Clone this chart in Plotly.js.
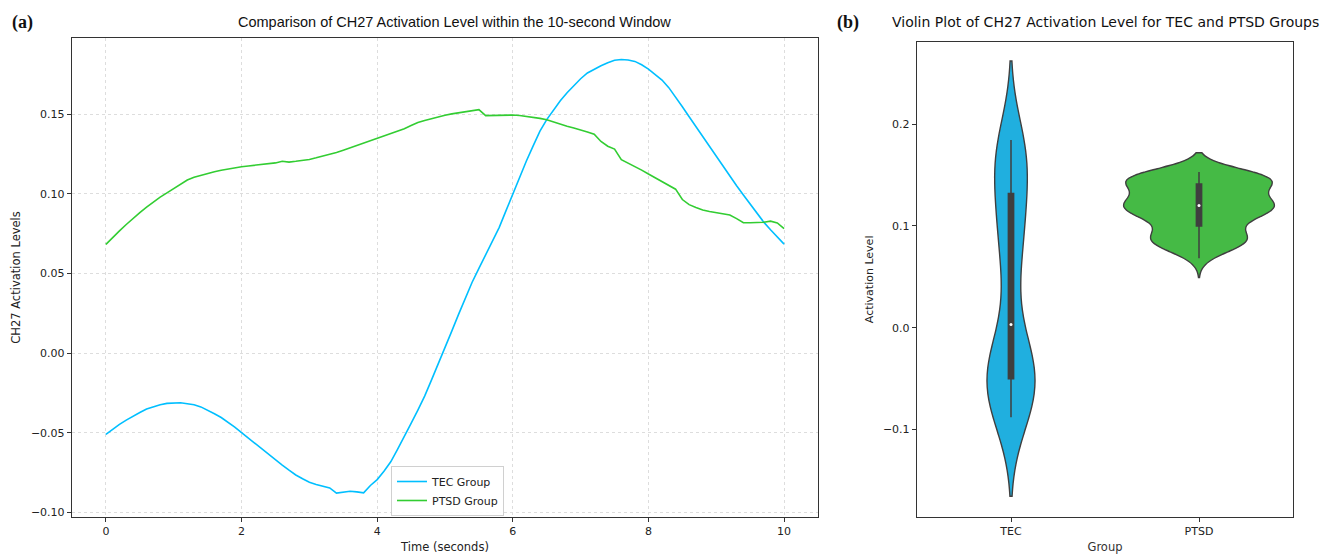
<!DOCTYPE html>
<html>
<head>
<meta charset="utf-8">
<script src="https://cdn.plot.ly/plotly-3.0.1.min.js"></script>
<style>
html,body{margin:0;padding:0;background:#ffffff;}
#chart{width:1336px;height:555px;}
</style>
</head>
<body>
<div id="chart"></div>
<script>
// ---- data ----
const timeSeconds = [0,0.1,0.2,0.3,0.4,0.5,0.6,0.7,0.8,0.9,1,1.1,1.2,1.3,1.4,1.5,1.6,1.7,1.8,1.9,
  2,2.1,2.2,2.3,2.4,2.5,2.6,2.7,2.8,2.9,3,3.1,3.2,3.3,3.4,3.5,3.6,3.7,3.8,3.9,
  4,4.1,4.2,4.3,4.4,4.5,4.6,4.7,4.8,4.9,5,5.1,5.2,5.3,5.4,5.5,5.6,5.7,5.8,5.9,
  6,6.1,6.2,6.3,6.4,6.5,6.6,6.7,6.8,6.9,7,7.1,7.2,7.3,7.4,7.5,7.6,7.7,7.8,7.9,
  8,8.1,8.2,8.3,8.4,8.5,8.6,8.7,8.8,8.9,9,9.1,9.2,9.3,9.4,9.5,9.6,9.7,9.8,9.9,10];

const tecGroup = [-0.0511,-0.0479,-0.0448,-0.0421,-0.0396,-0.0373,-0.0352,-0.0336,-0.0325,-0.0316,
  -0.0312,-0.0312,-0.0318,-0.0325,-0.0338,-0.0358,-0.0381,-0.0405,-0.0433,-0.0465,
  -0.0500,-0.0535,-0.0570,-0.0605,-0.0638,-0.0671,-0.0704,-0.0736,-0.0766,-0.0790,
  -0.0812,-0.0826,-0.0838,-0.0847,-0.0880,-0.0876,-0.0868,-0.0872,-0.0878,-0.0832,
  -0.0795,-0.0743,-0.0683,-0.0605,-0.0526,-0.0442,-0.0358,-0.0270,-0.0170,-0.0071,
  0.0032,0.0138,0.0243,0.0347,0.0445,0.0532,0.0617,0.0700,0.0790,0.0895,
  0.1000,0.1105,0.1207,0.1302,0.1395,0.1467,0.1530,0.1586,0.1636,0.1682,
  0.1724,0.1760,0.1785,0.1806,0.1825,0.1840,0.1845,0.1842,0.1833,0.1812,
  0.1785,0.1752,0.1716,0.1668,0.1610,0.1548,0.1485,0.1422,0.1363,0.1304,
  0.1240,0.1175,0.1110,0.1052,0.0993,0.0936,0.0879,0.0823,0.0775,0.0730,0.0685];

const ptsdGroup = [0.0683,0.0727,0.0768,0.0808,0.0847,0.0883,0.0917,0.0950,0.0980,0.1007,
  0.1035,0.1062,0.1088,0.1105,0.1118,0.1130,0.1140,0.1149,0.1157,0.1164,
  0.1171,0.1176,0.1181,0.1185,0.1189,0.1195,0.1205,0.1200,0.1205,0.1210,
  0.1217,0.1227,0.1237,0.1249,0.1261,0.1275,0.1290,0.1304,0.1319,0.1334,
  0.1349,0.1364,0.1378,0.1393,0.1410,0.1430,0.1449,0.1462,0.1474,0.1485,
  0.1495,0.1503,0.1510,0.1517,0.1524,0.1530,0.1492,0.1494,0.1495,0.1496,
  0.1496,0.1493,0.1488,0.1483,0.1475,0.1466,0.1451,0.1437,0.1426,0.1415,
  0.1404,0.1390,0.1375,0.1330,0.1300,0.1282,0.1215,0.1195,0.1172,0.1150,
  0.1125,0.1100,0.1078,0.1055,0.1030,0.0965,0.0933,0.0915,0.0899,0.0890,
  0.0882,0.0875,0.0868,0.0845,0.0819,0.0819,0.0819,0.0822,0.0829,0.0818,0.0782];

const seriesNames = ['TEC Group','PTSD Group'];
const groupLabels = ['TEC','PTSD'];
const xTickVals = [0,2,4,6,8,10];
const yTickVals = [-0.10,-0.05,0.00,0.05,0.10,0.15];
const y2TickVals = [-0.1,0.0,0.1,0.2];

// ---- helpers (statistics derived from the data, seaborn-like) ----
function std(a){const m=a.reduce((s,v)=>s+v,0)/a.length;return Math.sqrt(a.reduce((s,v)=>s+(v-m)*(v-m),0)/(a.length-1));}
function scottBw(a){return std(a)*Math.pow(a.length,-0.2);}
function median(a){const s=[...a].sort((p,q)=>p-q);const n=s.length;return n%2?s[(n-1)/2]:(s[n/2-1]+s[n/2])/2;}
function kdePeak(a,bw){
  const lo=Math.min(...a)-2*bw, hi=Math.max(...a)+2*bw; let best=0;
  for(let k=0;k<=600;k++){const x=lo+(hi-lo)*k/600;let d=0;
    for(const v of a){const z=(x-v)/bw;d+=Math.exp(-0.5*z*z);}
    d/=a.length*bw*Math.sqrt(2*Math.PI); if(d>best)best=d;}
  return best;
}

const W=1336,H=555;
const px=(x)=>x/W, py=(y)=>1-y/H;
const FONT='DejaVu Sans';

const lineColors=['#00bfff','#32cd32'];
const violinFill=['#20afdf','#45ba45'];
const darkGray='#3f3f3f';

const groups=[tecGroup,ptsdGroup];
const bws=groups.map(scottBw);
const peaks=groups.map((d,i)=>kdePeak(d,bws[i]));
const maxPeak=Math.max(...peaks);
const violinWidths=peaks.map(p=>0.8*p/maxPeak);   // seaborn "area" scaling

const traces=[
  {type:'scatter',mode:'lines',x:timeSeconds,y:tecGroup,name:seriesNames[0],
   line:{color:lineColors[0],width:1.6},xaxis:'x',yaxis:'y',hoverinfo:'skip'},
  {type:'scatter',mode:'lines',x:timeSeconds,y:ptsdGroup,name:seriesNames[1],
   line:{color:lineColors[1],width:1.6},xaxis:'x',yaxis:'y',hoverinfo:'skip'}
];
groups.forEach((d,i)=>{
  traces.push({type:'violin',x0:groupLabels[i],y:d,name:groupLabels[i],xaxis:'x2',yaxis:'y2',
    fillcolor:violinFill[i],line:{color:darkGray,width:1.4},opacity:1,
    bandwidth:bws[i],spanmode:'soft',scalemode:'width',width:violinWidths[i],
    points:false,box:{visible:true,width:0.028/violinWidths[i],fillcolor:darkGray,line:{color:darkGray,width:1.5}},
    meanline:{visible:false},showlegend:false,hoverinfo:'skip'});
});
traces.push({type:'scatter',mode:'markers',x:groupLabels,y:groups.map(median),
  xaxis:'x2',yaxis:'y2',marker:{color:'#ffffff',size:3},showlegend:false,hoverinfo:'skip'});

const axisCommon={showline:true,linecolor:'#333333',linewidth:1.2,mirror:true,ticks:'outside',ticklen:4,
  tickwidth:1,tickcolor:'#333333',zeroline:false,automargin:false,
  tickfont:{family:FONT,size:11,color:'#222222'}};

const layout={
  width:W,height:H,margin:{l:0,r:0,t:0,b:0},paper_bgcolor:'#ffffff',plot_bgcolor:'#ffffff',
  showlegend:true,violinmode:'overlay',
  xaxis:Object.assign({},axisCommon,{domain:[px(72),px(818)],range:[-0.5,10.5],tickvals:xTickVals,
    showgrid:true,gridcolor:'#dddddd',griddash:'dot',gridwidth:1,anchor:'y',
    title:{text:'Time (seconds)',font:{family:FONT,size:11.5,color:'#222222'},standoff:5}}),
  yaxis:Object.assign({},axisCommon,{domain:[py(517),py(38)],range:[-0.103,0.198],tickvals:yTickVals,
    tickformat:'.2f',showgrid:true,gridcolor:'#dddddd',griddash:'dot',gridwidth:1,anchor:'x',
    title:{text:'CH27 Activation Levels',font:{family:FONT,size:11.5,color:'#222222'},standoff:7}}),
  xaxis2:Object.assign({},axisCommon,{domain:[px(917),px(1293)],range:[-0.5,1.5],type:'category',
    categoryorder:'array',categoryarray:groupLabels,showgrid:false,anchor:'y2',
    title:{text:'Group',font:{family:FONT,size:11.5,color:'#333333'},standoff:5}}),
  yaxis2:Object.assign({},axisCommon,{domain:[py(517),py(41.7)],range:[-0.186,0.281],tickvals:y2TickVals,
    tickformat:'.1f',showgrid:false,anchor:'x2',
    title:{text:'Activation Level',font:{family:FONT,size:11,color:'#222222'},standoff:7}}),
  legend:{x:px(391),y:py(466),xanchor:'left',yanchor:'top',bgcolor:'rgba(255,255,255,0.9)',
    bordercolor:'#d0d0d0',borderwidth:1,font:{family:FONT,size:11,color:'#222222'},
    tracegroupgap:0,itemwidth:30},
  annotations:[
    {text:'Comparison of CH27 Activation Level within the 10-second Window',xref:'paper',yref:'paper',
     x:px(454.5),y:py(22),xanchor:'center',yanchor:'middle',showarrow:false,
     font:{family:'Liberation Sans',size:14.5,color:'#111111'}},
    {text:'Violin Plot of CH27 Activation Level for TEC and PTSD Groups',xref:'paper',yref:'paper',
     x:px(1105),y:py(22),xanchor:'center',yanchor:'middle',showarrow:false,
     font:{family:FONT,size:14,color:'#111111'}},
    {text:'<b>(a)</b>',xref:'paper',yref:'paper',x:px(22.5),y:py(22),xanchor:'center',yanchor:'middle',
     showarrow:false,font:{family:'Liberation Serif',size:18,color:'#111111'}},
    {text:'<b>(b)</b>',xref:'paper',yref:'paper',x:px(847.5),y:py(22),xanchor:'center',yanchor:'middle',
     showarrow:false,font:{family:'Liberation Serif',size:18,color:'#111111'}}
  ]
};

Plotly.newPlot('chart',traces,layout,{staticPlot:true,displayModeBar:false});
</script>
</body>
</html>
